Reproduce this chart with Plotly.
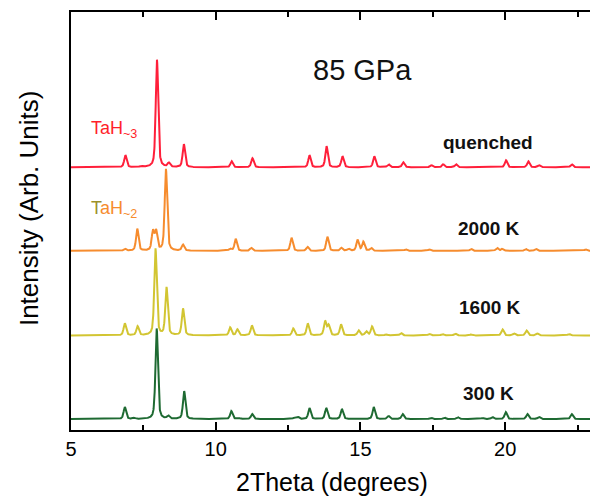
import numpy as np
import plotly.graph_objects as go

# Peak lists: (2theta position, peak height in plot units)
quenched_pos = [6.88, 7.42, 7.97, 8.38, 8.90, 10.55, 11.27, 13.24, 13.83, 14.38, 15.48, 15.97, 16.48, 17.45, 17.86, 18.30, 20.03, 20.80, 21.17, 22.30]
quenched_int = [12, 1, 108, 4, 23, 6, 9, 12, 21, 11, 11, 3, 5, 2, 3, 3, 7, 6, 2, 3]

k2000_pos = [6.86, 7.29, 7.83, 7.94, 8.28, 8.87, 10.50, 10.69, 11.23, 12.62, 13.17, 13.86, 14.34, 14.59, 14.90, 15.10, 15.37, 16.57, 17.38, 18.82, 19.72, 19.90, 20.71, 21.06, 22.78]
k2000_int = [2, 22, 19, 19, 82, 6, 2, 12, 3, 13, 4, 14, 3, 2, 11, 9, 3, 1.5, 1.5, 2, 3, 2, 2, 2, 1.5]

k1600_pos = [6.86, 7.30, 7.92, 8.30, 8.87, 10.50, 10.75, 11.25, 12.68, 13.18, 13.78, 13.90, 14.33, 14.94, 15.20, 15.40, 15.89, 16.40, 17.38, 17.83, 18.27, 18.82, 19.91, 20.31, 20.74, 21.11, 22.20]
k1600_int = [12, 9, 87, 48, 27, 8, 6, 10, 7, 12, 14, 10, 11, 5, 4, 9, 1, 2.5, 1.5, 1.5, 2, 1, 6, 2, 5, 2, 1.5]

k300_pos = [6.86, 7.18, 7.96, 8.36, 8.91, 10.54, 10.79, 11.26, 12.72, 12.84, 13.24, 13.82, 14.36, 15.46, 15.97, 16.46, 17.44, 17.90, 18.36, 19.22, 19.56, 20.02, 20.77, 21.17, 22.30]
k300_int = [12, 1, 91, 3, 28, 8, 1, 5, 1.5, 2, 11, 11, 10, 12, 3, 5, 1.5, 1.5, 2, 1, 2, 7, 5, 2, 5]

offsets = {"quenched": 264, "2000 K": 180, "1600 K": 95, "300 K": 11}
colors = {"quenched": "#ff1f3a", "2000 K": "#f68c2e", "1600 K": "#d2c532", "300 K": "#1e6a32"}

x_ticks = [5, 10, 15, 20]

FWHM = 0.1
ETA = 0.5
x = np.linspace(5, 23, 3601)


def pattern(pos, inten):
    y = np.zeros_like(x)
    hw = FWHM / 2
    for p, h in zip(pos, inten):
        d = x - p
        lor = 1.0 / (1.0 + (d / hw) ** 2)
        gau = np.exp(-np.log(2) * (d / hw) ** 2)
        y += h * (ETA * lor + (1 - ETA) * gau)
    return y


series = [
    ("quenched", quenched_pos, quenched_int),
    ("2000 K", k2000_pos, k2000_int),
    ("1600 K", k1600_pos, k1600_int),
    ("300 K", k300_pos, k300_int),
]

fig = go.Figure()
for name, pos, inten in series:
    fig.add_trace(go.Scatter(
        x=x, y=pattern(pos, inten) + offsets[name], mode="lines",
        line=dict(color=colors[name], width=2), name=name, showlegend=False,
        hoverinfo="skip"))

FONT = "Liberation Sans, Arial, sans-serif"

labels = [
    (15.07, 362, "85 GPa", 29),
    (19.41, 289, "<b>quenched</b>", 19),
    (19.45, 202, "<b>2000 K</b>", 19),
    (19.48, 123, "<b>1600 K</b>", 19),
    (19.41, 37, "<b>300 K</b>", 19),
]
for lx, ly, txt, sz in labels:
    fig.add_annotation(xref="x", yref="y", x=lx, y=ly, text=txt, showarrow=False,
                       font=dict(family=FONT, size=sz, color="#111"))

fig.add_annotation(xref="x", yref="y", x=5.62, y=302, xanchor="left", showarrow=False,
                   text="TaH<sub>~3</sub>", font=dict(family=FONT, size=18, color="#ff1f2a"))
fig.add_annotation(xref="x", yref="y", x=5.62, y=222, xanchor="left", showarrow=False,
                   text="<span style='color:#9c902a'>T</span>aH<sub>~2</sub>",
                   font=dict(family=FONT, size=18, color="#f68c2e"))

# axis titles
fig.add_annotation(xref="paper", yref="paper", x=0.5, y=-52 / 420, yanchor="middle", showarrow=False,
                   text="2Theta (degrees)", font=dict(family=FONT, size=25, color="black"))
fig.add_annotation(xref="paper", yref="paper", x=-42 / 521, y=(430 - 207) / 420, xanchor="center",
                   yanchor="middle", textangle=-90, showarrow=False,
                   text="Intensity (Arb. Units)", font=dict(family=FONT, size=26, color="black"))

fig.update_xaxes(range=[5, 23], tickvals=x_ticks, ticktext=[str(v) for v in x_ticks],
                 ticks="inside", ticklen=8, tickwidth=2, tickcolor="black",
                 minor=dict(tickvals=[7.5, 12.5, 17.5, 22.5], ticks="inside", ticklen=5, tickwidth=2, tickcolor="black"),
                 showline=True, linewidth=2, linecolor="black", mirror="ticks",
                 showgrid=False, zeroline=False,
                 tickfont=dict(family=FONT, size=20, color="black"))
fig.update_yaxes(range=[0, 420], showticklabels=False, ticks="", showline=True, linewidth=2,
                 linecolor="black", mirror=True, showgrid=False, zeroline=False)

# page body adds an 8 px offset, so the figure is sized to fit the window
fig.update_layout(width=590, height=491, margin=dict(l=63, r=6, t=2, b=69),
                  plot_bgcolor="white", paper_bgcolor="white", font=dict(family=FONT))

fig.write_html("out.html")
